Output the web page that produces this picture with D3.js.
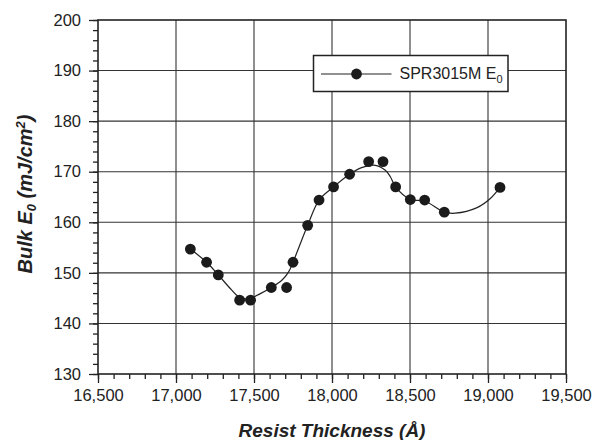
<!DOCTYPE html>
<html>
<head>
<meta charset="utf-8">
<script src="https://cdn.jsdelivr.net/npm/d3@7"></script>
<style>
    body { margin: 0; background: #fff; }
    .chart text { font-family: "Liberation Sans", Arial, Helvetica, sans-serif; fill: #222; }
</style>
</head>
<body>
<div class="chart"></div>
<script>
// measured points
var thickness = [17092, 17196, 17271, 17408, 17478, 17611, 17709, 17750, 17844, 17917,
                 18010, 18113, 18235, 18327, 18408, 18502, 18594, 18720, 19077];
var bulkE0 = [154.7, 152.1, 149.6, 144.6, 144.6, 147.1, 147.1, 152.1, 159.4, 164.4,
              167.0, 169.5, 172.0, 172.0, 167.0, 164.5, 164.4, 162.0, 166.9];

// smoothed fit curve
var fitThickness = [17092, 17196, 17271, 17348, 17400, 17460, 17541, 17611, 17680, 17722,
                    17750, 17844, 17917, 18010, 18113, 18190, 18267, 18342, 18374, 18408,
                    18502, 18594, 18720, 18790, 18930, 19015, 19077];
var fitE0 = [154.7, 152.1, 149.6, 146.9, 145.3, 144.8, 145.9, 147.1, 148.6, 150.2,
             152.1, 159.4, 164.4, 167.0, 169.5, 170.8, 171.3, 170.3, 169.0, 167.0,
             164.5, 164.2, 162.0, 161.8, 162.9, 164.7, 166.9];

var xTicks = [16500, 17000, 17500, 18000, 18500, 19000, 19500];
var yTicks = [130, 140, 150, 160, 170, 180, 190, 200];
var seriesName = "SPR3015M E";

var margin = {top: 20, right: 34, bottom: 66, left: 98},
    width = 600 - margin.left - margin.right,
    height = 440 - margin.top - margin.bottom;

var x = d3.scaleLinear().domain([16500, 19500]).range([0, width]);
var y = d3.scaleLinear().domain([130, 200]).range([height, 0]);

var svg = d3.select(".chart").append("svg")
    .attr("width", 600)
    .attr("height", 440)
    .append("g")
    .attr("transform", "translate(" + margin.left + "," + margin.top + ")");

// grid
svg.append("g")
    .selectAll("line")
    .data(xTicks.slice(1, -1))
    .join("line")
    .attr("x1", function(d) { return x(d); })
    .attr("x2", function(d) { return x(d); })
    .attr("y1", 0)
    .attr("y2", height)
    .attr("stroke", "#333")
    .attr("stroke-width", 1.1);

svg.append("g")
    .selectAll("line")
    .data(yTicks.slice(1, -1))
    .join("line")
    .attr("x1", 0)
    .attr("x2", width)
    .attr("y1", function(d) { return y(d); })
    .attr("y2", function(d) { return y(d); })
    .attr("stroke", "#333")
    .attr("stroke-width", 1.1);

// minor ticks
var xMinor = d3.axisBottom(x).tickValues(d3.range(16500, 19501, 100)).tickSize(5).tickFormat("");
var yMinor = d3.axisLeft(y).tickValues(d3.range(130, 201, 2)).tickSize(5).tickFormat("");

svg.append("g")
    .attr("transform", "translate(0," + height + ")")
    .call(xMinor)
    .call(function(g) { g.select(".domain").remove(); });
svg.append("g")
    .call(yMinor)
    .call(function(g) { g.select(".domain").remove(); });

var xAxis = d3.axisBottom(x).tickValues(xTicks).tickSize(9).tickPadding(6)
    .tickFormat(d3.format(","));
var yAxis = d3.axisLeft(y).tickValues(yTicks).tickSize(9).tickPadding(8);

svg.append("g")
    .attr("class", "x axis")
    .attr("transform", "translate(0," + height + ")")
    .call(xAxis);

svg.append("g")
    .attr("class", "y axis")
    .call(yAxis);

svg.selectAll(".axis text").style("font-size", "16.5px");
svg.selectAll(".tick line").attr("stroke", "#222").attr("stroke-width", 1.3);
svg.selectAll(".domain").remove();

// frame
svg.append("rect")
    .attr("width", width)
    .attr("height", height)
    .attr("fill", "none")
    .attr("stroke", "#222")
    .attr("stroke-width", 1.6);

// fit curve
var fit = fitThickness.map(function(d, i) { return [d, fitE0[i]]; });
var line = d3.line()
    .x(function(d) { return x(d[0]); })
    .y(function(d) { return y(d[1]); })
    .curve(d3.curveCatmullRom.alpha(0.5));

svg.append("path")
    .datum(fit)
    .attr("d", line)
    .attr("fill", "none")
    .attr("stroke", "#222")
    .attr("stroke-width", 1.2);

svg.append("g")
    .selectAll("circle")
    .data(thickness)
    .join("circle")
    .attr("cx", function(d) { return x(d); })
    .attr("cy", function(d, i) { return y(bulkE0[i]); })
    .attr("r", 5.4)
    .attr("fill", "#1b1b1b");

// legend
var legend = svg.append("g")
    .attr("transform", "translate(" + (313.5 - margin.left) + "," + (55.5 - margin.top) + ")");

legend.append("rect")
    .attr("width", 194.5)
    .attr("height", 36)
    .attr("fill", "#fff")
    .attr("stroke", "#222")
    .attr("stroke-width", 1.5);

legend.append("line")
    .attr("x1", 7.5).attr("x2", 78)
    .attr("y1", 18.5).attr("y2", 18.5)
    .attr("stroke", "#222")
    .attr("stroke-width", 1.2);

legend.append("circle")
    .attr("cx", 43).attr("cy", 18.5)
    .attr("r", 5.4)
    .attr("fill", "#1b1b1b");

var lt = legend.append("text")
    .attr("x", 86)
    .attr("y", 23)
    .style("font-size", "16px")
    .text(seriesName);
lt.append("tspan")
    .attr("dy", 4)
    .style("font-size", "11px")
    .text("0");

// axis titles
svg.append("text")
    .attr("x", width / 2)
    .attr("y", height + 63)
    .style("text-anchor", "middle")
    .style("font-size", "19px")
    .style("font-weight", "bold")
    .style("font-style", "italic")
    .text("Resist Thickness (\u00c5)");

var yt = svg.append("text")
    .attr("transform", "translate(" + (32 - margin.left) + "," + (194 - margin.top) + ") rotate(-90)")
    .style("text-anchor", "middle")
    .style("font-size", "20px")
    .style("font-weight", "bold")
    .style("font-style", "italic");
yt.append("tspan").text("Bulk E");
yt.append("tspan").attr("dy", 4).style("font-size", "13px").text("0");
yt.append("tspan").attr("dy", -4).text(" (mJ/cm");
yt.append("tspan").attr("dy", -7).style("font-size", "13px").text("2");
yt.append("tspan").attr("dy", 7).text(")");
</script>
</body>
</html>
